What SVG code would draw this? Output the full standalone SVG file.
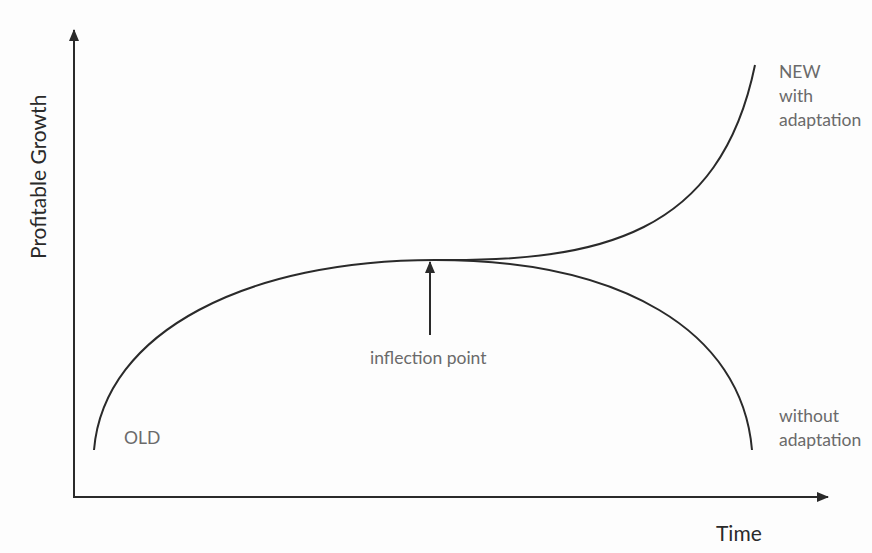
<svg xmlns="http://www.w3.org/2000/svg" width="872" height="553" viewBox="0 0 872 553">
<defs>
<style>
.ax{fill:none;stroke:#2a2a2a;stroke-width:2}
.cv{fill:none;stroke:#2a2a2a;stroke-width:2}
.lbl{font-family:Lato,"Open Sans",sans-serif;fill:#6a6a6a;font-size:17.5px}
.ttl{font-family:Lato,"Open Sans",sans-serif;fill:#2a2a2a;font-size:21px}
</style>
<marker id="ah" viewBox="0 0 12 10" refX="11" refY="5" markerWidth="12" markerHeight="10" markerUnits="userSpaceOnUse" orient="auto">
<path d="M0,0 L12,5 L0,10 Z" fill="#2a2a2a"/>
</marker>
</defs>
<rect width="872" height="553" fill="#fdfdfd"/>
<g id="connectors">
<path class="ax" d="M74,497 L74,30" marker-end="url(#ah)"/>
<path class="ax" d="M73,497 L828,497" marker-end="url(#ah)"/>
<path class="cv" d="M94,450 C104,330 250,260 435,260 C620,260 742,330 752,450"/>
<path class="cv" d="M435,260 C600,262 720,235 755,65"/>
<path class="ax" d="M430,335 L430,262" marker-end="url(#ah)"/>
</g>
<g id="label-y"><text class="ttl" transform="translate(46,259) rotate(-90)">Profitable Growth</text></g>
<g id="label-x"><text class="ttl" x="716" y="541">Time</text></g>
<g id="label-inflection"><text class="lbl" x="370" y="364">inflection point</text></g>
<g id="label-old"><text class="lbl" x="124" y="444">OLD</text></g>
<g id="label-new"><text class="lbl" x="779" y="78">NEW</text><text class="lbl" x="779" y="102">with</text><text class="lbl" x="779" y="126">adaptation</text></g>
<g id="label-without"><text class="lbl" x="779" y="422">without</text><text class="lbl" x="779" y="446">adaptation</text></g>
</svg>
